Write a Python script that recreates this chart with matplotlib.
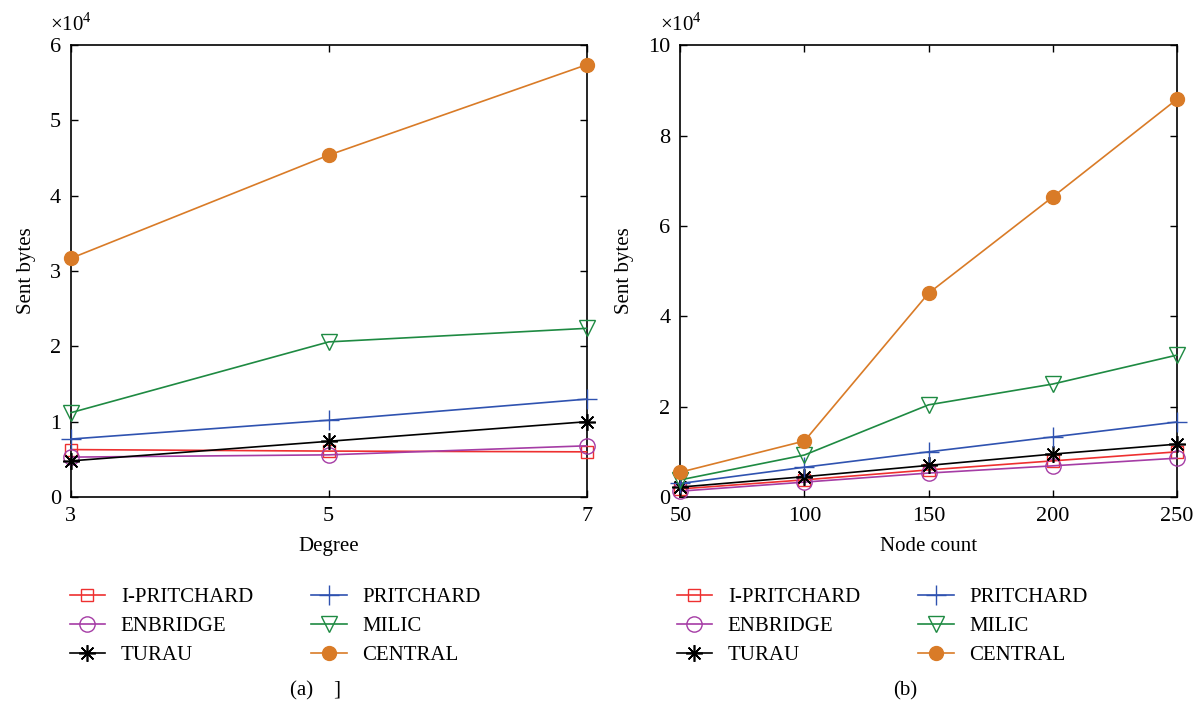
import matplotlib.pyplot as plt

plt.rcParams['font.family'] = ['Liberation Serif', 'DejaVu Serif']
plt.rcParams['mathtext.fontset'] = 'custom'
plt.rcParams['mathtext.rm'] = 'Liberation Serif'

# (a) sent bytes vs degree, in units of 1e4
degree = [3, 5, 7]
a_ipritchard = [0.63, 0.61, 0.60]
a_enbridge = [0.53, 0.56, 0.68]
a_turau = [0.48, 0.74, 1.00]
a_pritchard = [0.77, 1.02, 1.30]
a_milic = [1.12, 2.06, 2.24]
a_central = [3.17, 4.54, 5.74]

# (b) sent bytes vs node count, in units of 1e4
nodes = [50, 100, 150, 200, 250]
b_ipritchard = [0.18, 0.38, 0.60, 0.80, 1.00]
b_enbridge = [0.13, 0.33, 0.53, 0.69, 0.86]
b_turau = [0.22, 0.45, 0.70, 0.95, 1.17]
b_pritchard = [0.30, 0.66, 1.00, 1.33, 1.66]
b_milic = [0.38, 0.93, 2.04, 2.50, 3.14]
b_central = [0.55, 1.24, 4.51, 6.64, 8.80]

names = ['I-PRITCHARD', 'ENBRIDGE', 'TURAU', 'PRITCHARD', 'MILIC', 'CENTRAL']
colors = ['#ee3030', '#a53ca5', '#000000', '#2f52b0', '#1e8a42', '#d97b27']
styles = [
    dict(marker='s', mfc='none', ms=9),
    dict(marker='o', mfc='none', ms=11),
    dict(marker=(8, 2, 0), ms=12, mew=1.2),
    dict(marker='+', ms=14, mew=1.0),
    dict(marker='v', mfc='none', ms=11),
    dict(marker='o', ms=10),
]

fig = plt.figure(figsize=(12.02, 7.06), dpi=100)
ax1 = fig.add_axes([0.059, 0.296, 0.429, 0.640])
ax2 = fig.add_axes([0.566, 0.296, 0.413, 0.640])


def draw(ax, x, series, xlabel, ymax, yticks, legx):
    handles = []
    for vals, name, c, st in zip(series, names, colors, styles):
        h, = ax.plot(x, vals, color=c, lw=1.2, mec=c, label=name,
                     clip_on=False, zorder=3, **st)
        handles.append(h)
    ax.set_xlim(x[0], x[-1])
    ax.set_ylim(0, ymax)
    ax.set_yticks(yticks)
    ax.tick_params(direction='in', top=True, right=True, length=5,
                   labelsize=16, width=1, pad=7)
    for s in ax.spines.values():
        s.set_linewidth(1.2)
    ax.set_xlabel(xlabel, fontsize=15, labelpad=8)
    ax.set_ylabel('Sent bytes', fontsize=15, labelpad=10)
    ax.text(-0.04, 1.02, r'$\times10^4$', transform=ax.transAxes,
            fontsize=15, ha='left', va='bottom')
    fig.legend(handles=handles, ncol=2, frameon=False, fontsize=15,
               loc='upper left', bbox_to_anchor=(legx, 0.168),
               borderpad=0, borderaxespad=0,
               handlelength=1.7, columnspacing=2.8, labelspacing=0.45,
               handletextpad=0.75)


draw(ax1, degree, [a_ipritchard, a_enbridge, a_turau, a_pritchard, a_milic, a_central],
     'Degree', 6, [0, 1, 2, 3, 4, 5, 6], 0.058)
ax1.set_xticks(degree)
draw(ax2, nodes, [b_ipritchard, b_enbridge, b_turau, b_pritchard, b_milic, b_central],
     'Node count', 10, [0, 2, 4, 6, 8, 10], 0.563)
ax2.set_xticks(nodes)

fig.text(0.241, 0.008, '(a)    ]', fontsize=15, ha='left', va='bottom')
fig.text(0.753, 0.008, '(b)', fontsize=15, ha='center', va='bottom')

fig.savefig('out.png', dpi=100)
